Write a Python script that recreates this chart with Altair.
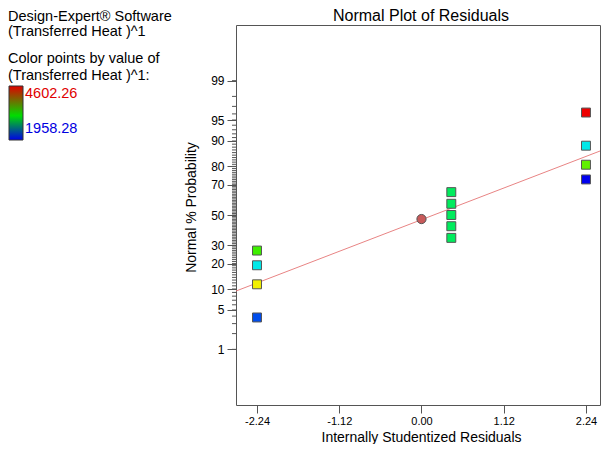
import altair as alt
import pandas as pd
from statistics import NormalDist

nd = NormalDist()

# ---- data ----
resid = [-2.24, -2.24, -2.24, -2.24, 0.406, 0.406, 0.406, 0.406, 0.406, 2.24, 2.24, 2.24, 2.24]
prob = [3.8, 11.5, 19.2, 26.9, 34.6, 42.3, 50.0, 57.7, 65.4, 73.1, 80.8, 88.5, 96.2]
heat = [2178, 3941, 2619, 3450, 3016, 3016, 3016, 3016, 3016, 1958.28, 3545, 2619, 4602.26]

center_resid = [0.0]
center_prob = [47.2]

line_resid = [-2.526, 2.431]
line_prob = [9.4, 86.6]

heat_min = 1958.28
heat_max = 4602.26

x_ticks = [-2.24, -1.12, 0.0, 1.12, 2.24]
major_pct = [1, 5, 10, 20, 30, 50, 70, 80, 90, 95, 99]
minor_pct = list(range(1, 100))

header_lines = ["Design-Expert\u00ae Software", "(Transferred Heat )^1",
                "Color points by value of", "(Transferred Heat )^1:"]
chart_title = "Normal Plot of Residuals"


def z(p):
    return nd.inv_cdf(p / 100.0)


pts = pd.DataFrame({"resid": resid, "z": [z(p) for p in prob], "heat": heat})
ctr = pd.DataFrame({"resid": center_resid, "z": [z(p) for p in center_prob]})
ln = pd.DataFrame({"resid": line_resid, "z": [z(p) for p in line_prob]})
minor = pd.DataFrame({"z": [z(p) for p in minor_pct]})
major_z = [z(p) for p in major_pct]

# label expression mapping z back to percent labels
expr = f"'{major_pct[-1]}'"
for i in range(len(major_pct) - 2, -1, -1):
    thr = (major_z[i] + major_z[i + 1]) / 2
    expr = f"datum.value < {thr:.4f} ? '{major_pct[i]}' : ({expr})"

FONT = "Liberation Sans"
W, H = 364, 380
XD = [-2.526, 2.431]
YD = [-3.29, 3.29]

xs = alt.Scale(domain=XD, nice=False, zero=False)
ys = alt.Scale(domain=YD, nice=False, zero=False)

x_axis = alt.Axis(
    values=x_ticks, labelExpr="replace(format(datum.value, '.2f'), '\u2212', '-')",
    tickSize=8, labelPadding=2, labelFontSize=11, labelOverlap=False,
    title="Internally Studentized Residuals", titleFontSize=14, titlePadding=4, titleX=185)
y_axis = alt.Axis(
    values=major_z, labelExpr=expr, tickSize=9, labelPadding=3, labelFontSize=12,
    labelOverlap=False, labelBound=False, labelFlush=False,
    title="Normal % Probability", titleFontSize=14, titleX=-38, titleY=182,
    titleBaseline="bottom")


def X():
    return alt.X("resid:Q", scale=xs, axis=x_axis)


def Y():
    return alt.Y("z:Q", scale=ys, axis=y_axis)


line = alt.Chart(ln).mark_line(color="#e88484", strokeWidth=1).encode(x=X(), y=Y())

heat_stops = [heat_min + (heat_max - heat_min) * k / 4 for k in range(5)]
points = alt.Chart(pts).mark_square(size=80, filled=True, stroke="#555555", strokeWidth=1, opacity=1).encode(
    x=X(), y=Y(),
    color=alt.Color("heat:Q", legend=None, scale=alt.Scale(
        domain=heat_stops, range=["#0000ee", "#00e8e8", "#00ee00", "#f2f000", "#ee0000"],
        interpolate="rgb")),
)

center = alt.Chart(ctr).mark_circle(size=85, color="#c85a5a", stroke="#555555", strokeWidth=1, opacity=1).encode(
    x=X(), y=Y())

minor_ticks = alt.Chart(minor).mark_rule(color="#555555", strokeWidth=1).encode(
    y=Y(), x=alt.value(-4), x2=alt.value(0))

layers = [minor_ticks, line, points, center]

# chart title as text mark centred over the original plot frame
layers.append(alt.Chart(pd.DataFrame({"t": [chart_title]})).mark_text(
    align="center", baseline="alphabetic", fontSize=16, font=FONT, color="black").encode(
    text="t:N", x=alt.value(185), y=alt.value(-4.5)))

# header text block (outside plot area)
hy = [-8.5, 7, 34, 51]
for t, yv in zip(header_lines, hy):
    layers.append(alt.Chart(pd.DataFrame({"t": [t]})).mark_text(
        align="left", baseline="middle", fontSize=14.5, font=FONT, color="black").encode(
        text="t:N", x=alt.value(-228), y=alt.value(yv)))

grad = alt.LinearGradient(gradient="linear", stops=[
    alt.GradientStop(color="#e00000", offset=0),
    alt.GradientStop(color="#00dd00", offset=0.55),
    alt.GradientStop(color="#0000e8", offset=1)], x1=0, x2=0, y1=0, y2=1)
bar = alt.Chart(pd.DataFrame({"a": [0]})).mark_rect(color=grad, stroke="#333333", strokeWidth=1).encode(
    x=alt.value(-227), x2=alt.value(-213), y=alt.value(61), y2=alt.value(115))
layers.append(bar)

for val, col, yv in [(heat_max, "#e00000", 69), (heat_min, "#0000e0", 103.5)]:
    layers.append(alt.Chart(pd.DataFrame({"t": [f"{val:.2f}"]})).mark_text(
        align="left", baseline="middle", fontSize=14.5, font=FONT, color=col).encode(
        text="t:N", x=alt.value(-211), y=alt.value(yv)))

chart = alt.layer(*layers).properties(
    width=W, height=H,
    autosize=alt.AutoSizeParams(type="none"),
    padding={"left": 228, "top": 17, "right": 1, "bottom": 39},
).configure_view(stroke="#555555", strokeWidth=1).configure_axis(
    domain=False, grid=False, tickColor="#555555", labelColor="black", titleColor="black",
    labelFont=FONT, titleFont=FONT, titleFontWeight="normal", labelOverlap=False)

chart.save("out.html", embed_options={"renderer": "svg", "actions": False})
